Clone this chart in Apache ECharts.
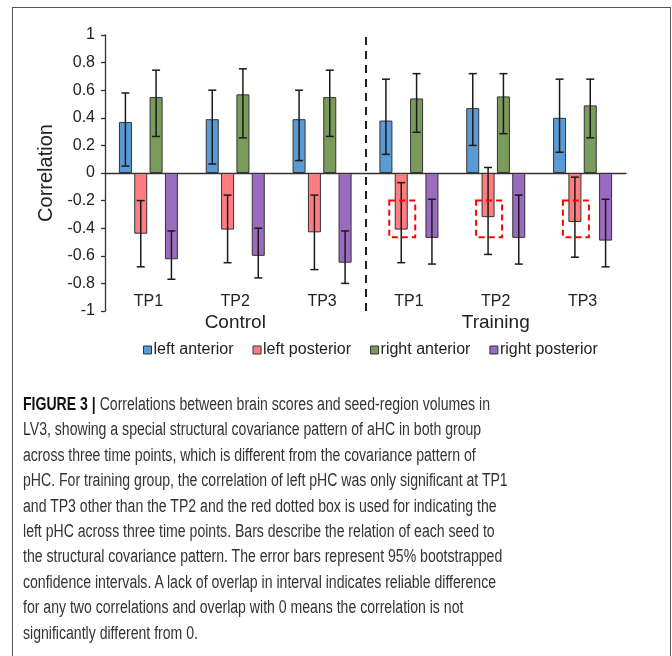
<!DOCTYPE html>
<html>
<head>
<meta charset="utf-8">
<script src="https://cdn.jsdelivr.net/npm/echarts@6/dist/echarts.min.js"></script>
<style>
  html, body { margin:0; padding:0; background:#fff; }
  #wrap { position:relative; width:672px; height:656px; overflow:hidden; background:#fff; }
  #frame { position:absolute; left:12px; top:7px; width:659px; height:700px; border:1.5px solid #555; box-sizing:border-box; }
  #chart { position:absolute; left:0; top:0; width:672px; height:656px; }
  #caption { position:absolute; left:23px; top:392px; font-family:"Liberation Sans", Arial, sans-serif; font-size:18px; line-height:25.4px; color:#333; }
  #caption div { white-space:nowrap; transform-origin:0 50%; }
  #caption b { color:#111; }
</style>
</head>
<body>
<div id="wrap">
  <div id="frame"></div>
  <div id="chart"></div>
  <div id="caption"></div>
</div>
<script>
// ---- data ----
const categories = ['TP1', 'TP2', 'TP3', 'TP1', 'TP2', 'TP3'];
const groups = ['Control', 'Training'];
const seriesNames = ['left anterior', 'left posterior', 'right anterior', 'right posterior'];

const leftAnterior      = [0.37, 0.39, 0.39, 0.38, 0.47, 0.40];
const leftAnteriorLow   = [0.05, 0.065, 0.09, 0.135, 0.20, 0.15];
const leftAnteriorHigh  = [0.58, 0.60, 0.60, 0.68, 0.72, 0.68];

const leftPosterior     = [-0.44, -0.41, -0.43, -0.41, -0.32, -0.355];
const leftPosteriorLow  = [-0.68, -0.65, -0.70, -0.65, -0.59, -0.61];
const leftPosteriorHigh = [-0.20, -0.16, -0.16, -0.07, 0.04, -0.03];

const rightAnterior     = [0.55, 0.57, 0.55, 0.54, 0.555, 0.49];
const rightAnteriorLow  = [0.265, 0.255, 0.265, 0.295, 0.285, 0.255];
const rightAnteriorHigh = [0.745, 0.755, 0.745, 0.72, 0.72, 0.68];

const rightPosterior     = [-0.625, -0.60, -0.65, -0.47, -0.47, -0.49];
const rightPosteriorLow  = [-0.77, -0.76, -0.80, -0.66, -0.66, -0.68];
const rightPosteriorHigh = [-0.42, -0.40, -0.42, -0.19, -0.16, -0.19];

const highlightCats = [3, 4, 5];          // training left posterior boxed
const highlightTop = [-0.20, -0.20, -0.20];
const highlightBottom = [-0.465, -0.465, -0.465];
const sectionBreak = [3];                  // dashed divider between groups

const yMin = -1, yMax = 1, yStep = 0.2;

const captionLines = [
  '<b>FIGURE 3 |</b> Correlations between brain scores and seed-region volumes in',
  'LV3, showing a special structural covariance pattern of aHC in both group',
  'across three time points, which is different from the covariance pattern of',
  'pHC. For training group, the correlation of left pHC was only significant at TP1',
  'and TP3 other than the TP2 and the red dotted box is used for indicating the',
  'left pHC across three time points. Bars describe the relation of each seed to',
  'the structural covariance pattern. The error bars represent 95% bootstrapped',
  'confidence intervals. A lack of overlap in interval indicates reliable difference',
  'for any two correlations and overlap with 0 means the correlation is not',
  'significantly different from 0.'
];

// ---- styles ----
const colors = ['#5B9BD5', '#FF7C80', '#7A9B5C', '#9A6BBF'];
const BAR_W = 13, BAR_GAP = 0.18;
const gapPx = BAR_W * BAR_GAP;
const totalW = 4 * BAR_W + 3 * gapPx;
const offsets = [0, 1, 2, 3].map(i => -totalW / 2 + i * (BAR_W + gapPx) + BAR_W / 2);
const FONT = '"Liberation Sans", Arial, sans-serif';

const values = [leftAnterior, leftPosterior, rightAnterior, rightPosterior];
const lows = [leftAnteriorLow, leftPosteriorLow, rightAnteriorLow, rightPosteriorLow];
const highs = [leftAnteriorHigh, leftPosteriorHigh, rightAnteriorHigh, rightPosteriorHigh];

const series = [];
seriesNames.forEach((name, i) => {
  series.push({
    name: name, type: 'bar', xAxisIndex: 0, yAxisIndex: 0,
    data: values[i], barWidth: BAR_W, barGap: (BAR_GAP * 100) + '%',
    itemStyle: { color: colors[i], borderColor: '#333', borderWidth: 1 },
    emphasis: { disabled: true }, z: 2
  });
});
seriesNames.forEach((name, i) => {
  series.push({
    name: name + ' CI', type: 'custom', xAxisIndex: 0, yAxisIndex: 0, z: 4, silent: true,
    data: categories.map((c, k) => [k, lows[i][k], highs[i][k]]),
    encode: { x: 0, y: [1, 2] },
    renderItem: function (params, api) {
      const k = api.value(0);
      const pLo = api.coord([k, api.value(1)]);
      const pHi = api.coord([k, api.value(2)]);
      const x = pLo[0] + offsets[i];
      const cap = 4;
      const st = { stroke: '#1a1a1a', lineWidth: 1.5, fill: null };
      return { type: 'group', children: [
        { type: 'line', shape: { x1: x, y1: pLo[1], x2: x, y2: pHi[1] }, style: st },
        { type: 'line', shape: { x1: x - cap, y1: pLo[1], x2: x + cap, y2: pLo[1] }, style: st },
        { type: 'line', shape: { x1: x - cap, y1: pHi[1], x2: x + cap, y2: pHi[1] }, style: st }
      ]};
    }
  });
});
series.push({
  name: 'highlight', type: 'custom', xAxisIndex: 0, yAxisIndex: 0, z: 5, silent: true,
  data: highlightCats.map((c, k) => [c, highlightTop[k], highlightBottom[k]]),
  encode: { x: 0, y: [1, 2] },
  renderItem: function (params, api) {
    const k = api.value(0);
    const pT = api.coord([k, api.value(1)]);
    const pB = api.coord([k, api.value(2)]);
    const cx = pT[0] + offsets[1] + 1;
    const w = 26;
    return { type: 'rect', shape: { x: cx - w / 2, y: pT[1], width: w, height: pB[1] - pT[1] },
      style: { fill: null, stroke: '#FF0000', lineWidth: 2, lineDash: [6, 4] } };
  }
});
series.push({
  name: 'divider', type: 'line', xAxisIndex: 3, yAxisIndex: 0, data: [], silent: true,
  markLine: { symbol: 'none', silent: true, label: { show: false },
    lineStyle: { type: [8, 6], color: '#222', width: 2 },
    data: sectionBreak.map(v => ({ xAxis: v })) }
});

const chart = echarts.init(document.getElementById('chart'), null, { renderer: 'canvas' });
chart.setOption({
  animation: false,
  backgroundColor: 'transparent',
  textStyle: { fontFamily: FONT },
  grid: { left: 105, right: 46, top: 35, bottom: 345, containLabel: false },
  legend: {
    data: seriesNames, left: 138, top: 337, icon: 'rect', itemWidth: 8, itemHeight: 8, itemGap: 19,
    textStyle: { fontFamily: FONT, fontSize: 16, color: '#222', padding: [0, 0, 0, -3] },
    itemStyle: { borderColor: '#333', borderWidth: 1 }
  },
  xAxis: [
    { type: 'category', data: categories, position: 'bottom',
      axisLine: { show: true, onZero: true, lineStyle: { color: '#333', width: 1.3 } },
      axisTick: { show: false }, axisLabel: { show: false }, splitLine: { show: false } },
    { type: 'category', data: categories, position: 'bottom',
      axisLine: { show: false, onZero: false }, axisTick: { show: false }, splitLine: { show: false },
      axisLabel: { show: true, inside: true, margin: 1, fontFamily: FONT, fontSize: 16, color: '#222' } },
    { type: 'category', data: groups, position: 'bottom',
      axisLine: { show: false, onZero: false }, axisTick: { show: false }, splitLine: { show: false },
      axisLabel: { show: true, margin: 2, fontFamily: FONT, fontSize: 19, color: '#222' } },
    { type: 'value', min: 0, max: categories.length, show: false,
      axisLine: { onZero: false }, splitLine: { show: false } }
  ],
  yAxis: [{
    type: 'value', min: yMin, max: yMax, interval: yStep,
    name: 'Correlation', nameLocation: 'middle', nameGap: 27, nameRotate: 90,
    nameTextStyle: { fontFamily: FONT, fontSize: 20, color: '#222' },
    axisLine: { show: true, lineStyle: { color: '#333', width: 1.3 } },
    axisTick: { show: true, length: 4, lineStyle: { color: '#333', width: 1.3 } },
    splitLine: { show: false },
    axisLabel: { margin: 10, fontFamily: FONT, fontSize: 16, color: '#222',
      formatter: v => String(parseFloat(v.toFixed(1))) }
  }],
  series: series
});

// caption
const cap = document.getElementById('caption');
captionLines.forEach(t => { const d = document.createElement('div'); d.innerHTML = t; cap.appendChild(d); });
const first = cap.firstChild;
const span = document.createElement('span'); span.innerHTML = captionLines[0]; span.style.whiteSpace = 'nowrap';
first.innerHTML = ''; first.appendChild(span);
const k = 467 / span.getBoundingClientRect().width;
Array.from(cap.children).forEach(d => { d.style.transform = 'scaleX(' + k + ')'; });
</script>
</body>
</html>
